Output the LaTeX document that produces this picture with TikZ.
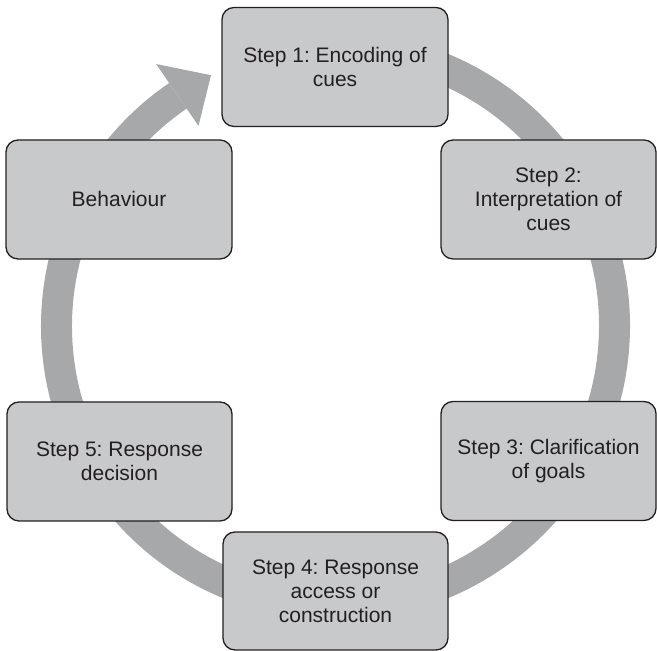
\documentclass[tikz,border=0pt]{standalone}
\usepackage{fontspec}
\setmainfont{Liberation Sans}
\usetikzlibrary{positioning, calc}
\frenchspacing

\definecolor{ringgray}{HTML}{A7A8AA}
\definecolor{boxgray}{HTML}{C8C9CB}
\definecolor{inkgray}{HTML}{231F20}

\tikzset{
  stepbox/.style={draw=inkgray, fill=boxgray, line width=0.65pt, rounded corners=6pt,
    align=center, text=inkgray, font=\fontsize{10.5}{12}\selectfont,
    minimum width=#1*0.5pt, minimum height=119*0.5pt, inner sep=0pt},
  stepbox/.default=226,
  ring/.style={draw=ringgray, line width=15.5pt},
}

\begin{document}
\begin{tikzpicture}[x=0.5pt, y=0.5pt]
  \useasboundingbox (0,0) rectangle (657,651);
  \coordinate (c) at (335.5,325);

  % ring behind the boxes
  \draw[ring] ($(c)+(124.4:279)$) arc[start angle=124.4, end angle=450, radius=279];
  \fill[ringgray] ($(c)+(124.4:317.5)$) -- ($(c)+(116.4:280)$) -- ($(c)+(124.4:242.5)$) -- cycle;

  \node[stepbox] (s1) at (335,584) {Step 1: Encoding of\\cues};
  \node[stepbox=215] (s2) at (548.5,451.5) {Step 2:\\Interpretation of\\cues};
  \node[stepbox=215] (s3) at (548.5,190) {Step 3: Clarification\\of goals};
  \node[stepbox=225, minimum height=118*0.5pt] (s4) at (335.5,60) {Step 4: Response\\access or\\construction};
  \node[stepbox=225] (s5) at (119.5,189.5) {Step 5: Response\\decision};
  \node[stepbox] (beh) at (119,451.5) {Behaviour};
\end{tikzpicture}
\end{document}
